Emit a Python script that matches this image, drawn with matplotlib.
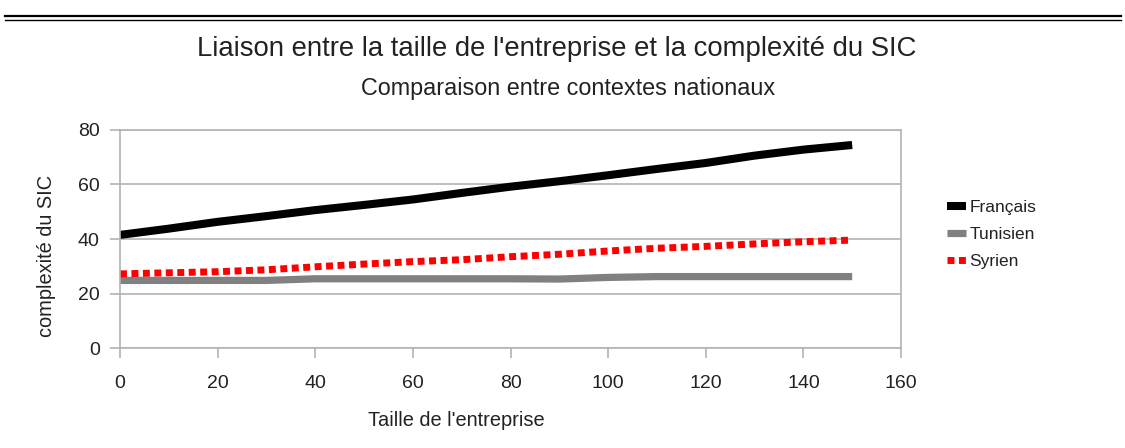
import matplotlib
matplotlib.use('Agg')
import matplotlib.pyplot as plt
from matplotlib.lines import Line2D

plt.rcParams['font.family'] = ['Liberation Sans', 'DejaVu Sans']

taille = [0, 10, 20, 30, 40, 50, 60, 70, 80, 90, 100, 110, 120, 130, 140, 150]
francais = [41.5, 43.8, 46.3, 48.4, 50.6, 52.5, 54.5, 56.9, 59.2, 61.2, 63.4, 65.7, 67.9, 70.6, 72.8, 74.5]
tunisien = [24.8, 24.8, 24.8, 24.8, 25.4, 25.4, 25.4, 25.4, 25.4, 25.3, 25.9, 26.2, 26.2, 26.2, 26.2, 26.2]
syrien = [27.2, 27.6, 28.0, 28.7, 29.8, 30.8, 31.7, 32.4, 33.5, 34.4, 35.6, 36.6, 37.3, 38.2, 39.0, 39.6]

grid_col = '#b3b3b3'
text_col = '#222222'

fig = plt.figure(figsize=(11.25, 4.48), dpi=100)

# double trait en haut
fig.add_artist(Line2D([0.004, 0.996], [1 - 16.5 / 448] * 2, color='black', lw=1.6))
fig.add_artist(Line2D([0.004, 0.996], [1 - 20.5 / 448] * 2, color='black', lw=1.0))

ax = fig.add_axes([120 / 1125, 1 - 348 / 448, 781 / 1125, 218 / 448])

ax.plot(taille, francais, color='black', lw=5.8, solid_capstyle='butt', label='Français')
ax.plot(taille, tunisien, color='#808080', lw=5.2, solid_capstyle='butt', label='Tunisien')
ax.plot(taille, syrien, color='#ff0000', lw=5.0, linestyle=(0, (1.0, 0.65)),
        dash_capstyle='butt', label='Syrien')

ax.set_xlim(0, 160)
ax.set_ylim(0, 80)
ax.set_xticks(range(0, 161, 20))
ax.set_yticks(range(0, 81, 20))
ax.grid(True, axis='y', color=grid_col, lw=1.2)
ax.set_axisbelow(True)
for s in ax.spines.values():
    s.set_color(grid_col)
    s.set_linewidth(1.2)
ax.tick_params(direction='out', length=7.5, width=1.2, color=grid_col,
               labelsize=14, labelcolor=text_col, pad=7)
ax.tick_params(axis='x', pad=12)

fig.text(47 / 1125, 1 - 256 / 448, 'complexité du SIC', rotation=90,
         ha='center', va='center', fontsize=14.4, color=text_col)
fig.text(456 / 1125, 1 - 420 / 448, "Taille de l'entreprise",
         ha='center', va='center', fontsize=14.4, color=text_col)

fig.text(557 / 1125, 1 - 49 / 448,
         "Liaison entre la taille de l'entreprise et la complexité du SIC",
         ha='center', va='center', fontsize=19.8, color=text_col)
fig.text(568 / 1125, 1 - 88 / 448,
         'Comparaison entre contextes nationaux',
         ha='center', va='center', fontsize=16.8, color=text_col)

ax.legend(loc='upper left', bbox_to_anchor=(931 / 1125, 1 - 184 / 448),
          bbox_transform=fig.transFigure, frameon=False, fontsize=12.5,
          handlelength=1.1, handletextpad=0.2, labelspacing=0.68,
          labelcolor=text_col)

plt.savefig('out.png', dpi=100)
plt.close()
